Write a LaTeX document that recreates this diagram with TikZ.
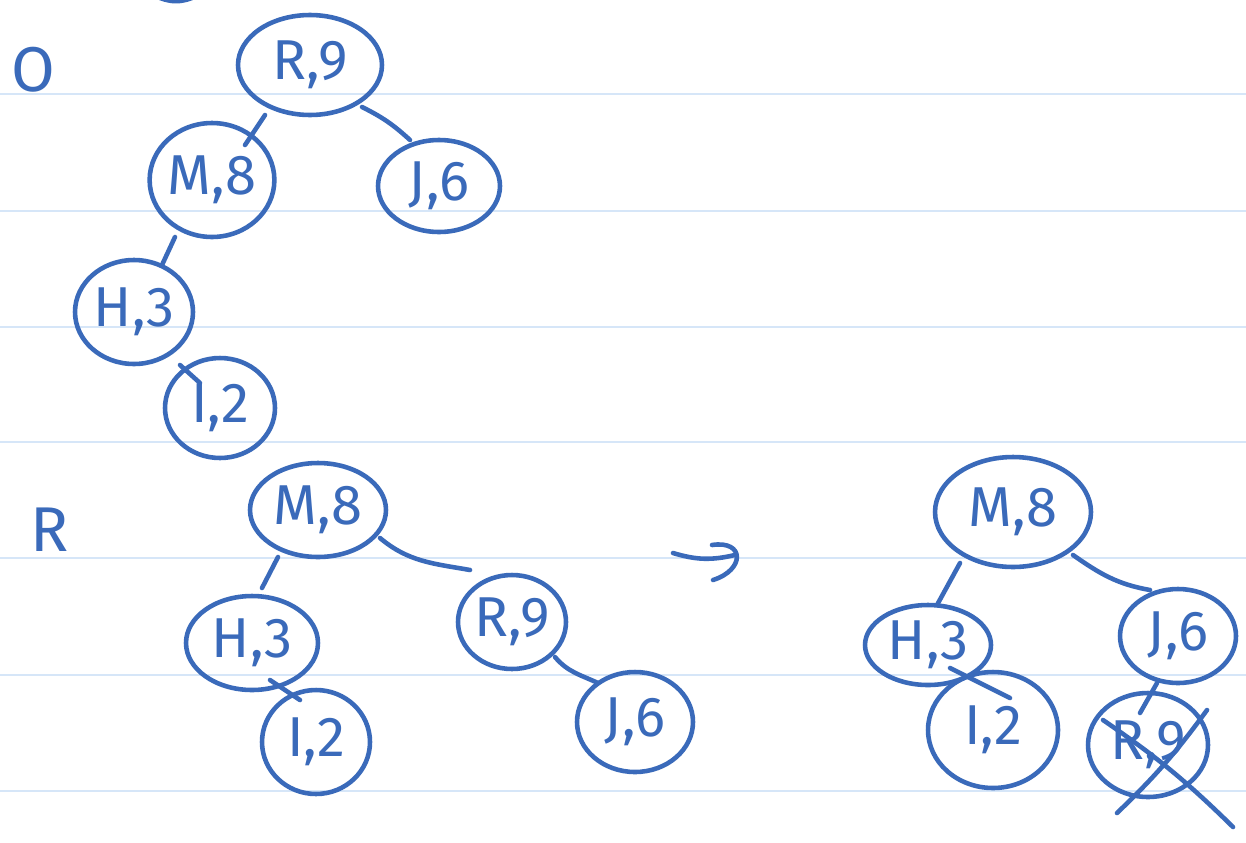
\documentclass[tikz,border=0pt]{standalone}
\usepackage{fontspec}
\setmainfont{Fira Sans}
\usetikzlibrary{shapes.geometric,calc}
\definecolor{ink}{RGB}{58,106,186}
\definecolor{paper}{RGB}{214,230,248}
\tikzset{
  nd/.style={ellipse, draw=ink, line width=2.6pt, inner sep=0pt, text=ink,
    font=\fontsize{32}{36}\selectfont},
  lbl/.style={text=ink, inner sep=0pt, font=\fontsize{36}{40}\selectfont},
  edge/.style={draw=ink, line width=2.6pt, line cap=round},
  rule/.style={draw=paper, line width=1.6pt}
}
\begin{document}
\begin{tikzpicture}[x=0.02cm, y=-0.02cm]
\useasboundingbox[fill=white] (0,0) rectangle (1246,842);
% ruled paper
\foreach \yy in {94,211,327,442,558,675,791}
  \draw[rule] (0,\yy) -- (1246,\yy);
% ink fragment at the top edge
\coordinate (fa) at (160,-2);
\coordinate (fb) at (192,-2);
\draw[edge] (fa) to[bend right=20] (fb);

% ---------- tree O ----------
\node[lbl] (labO) at (33,70) {O};
\node[nd, minimum width=2.88cm, minimum height=2.0cm] (o-r9) at (310,65) {R,9};
\node[nd, minimum width=2.48cm, minimum height=2.28cm] (o-m8) at (212,180) {M,8};
\node[nd, minimum width=2.44cm, minimum height=1.84cm] (o-j6) at (439,186) {J,6};
\node[nd, minimum width=2.36cm, minimum height=2.08cm] (o-h3) at (134,312) {H,3};
\node[nd, minimum width=2.20cm, minimum height=2.00cm] (o-i2) at (220,408) {I,2};
\draw[edge] ($(o-r9)+(-45,50)$) -- ($(o-m8)+(33,-35)$);
\draw[edge] ($(o-r9)+(52,42)$) to[bend left=8] ($(o-j6)+(-29,-46)$);
\draw[edge] ($(o-m8)+(-37,57)$) -- ($(o-h3)+(28,-47)$);
\draw[edge] ($(o-h3)+(46,53)$) -- ($(o-i2)+(-20,-25)$);

% ---------- tree R ----------
\node[lbl] (labR) at (50,530) {R};
\node[nd, minimum width=2.72cm, minimum height=1.88cm] (r-m8) at (318,510) {M,8};
\node[nd, minimum width=2.64cm, minimum height=1.88cm] (r-h3) at (252,643) {H,3};
\node[nd, minimum width=2.16cm, minimum height=2.08cm] (r-i2) at (316,742) {I,2};
\node[nd, minimum width=2.16cm, minimum height=1.88cm] (r-r9) at (512,622) {R,9};
\node[nd, minimum width=2.32cm, minimum height=2.00cm] (r-j6) at (635,722) {J,6};
\draw[edge] ($(r-m8)+(-40,47)$) -- ($(r-h3)+(10,-55)$);
\draw[edge] ($(r-m8)+(62,28)$) to[out=-40,in=170] ($(r-r9)+(-42,-52)$);
\draw[edge] ($(r-h3)+(18,37)$) -- ($(r-i2)+(-16,-42)$);
\draw[edge] ($(r-r9)+(43,35)$) to[out=-50,in=155] ($(r-j6)+(-37,-39)$);

% ---------- arrow ----------
\coordinate (a0) at (673,553);
\coordinate (a1) at (735,555);
\coordinate (h0) at (712,545);
\coordinate (h1) at (713,580);
\draw[edge] (a0) to[bend right=15] (a1);
\draw[edge] (h0) .. controls (745,540) and (745,570) .. (h1);

% ---------- result tree ----------
\node[nd, minimum width=3.12cm, minimum height=2.20cm] (f-m8) at (1013,512) {M,8};
\node[nd, minimum width=2.52cm, minimum height=1.60cm] (f-h3) at (928,645) {H,3};
\node[nd, minimum width=2.60cm, minimum height=2.32cm] (f-i2) at (993,730) {I,2};
\node[nd, minimum width=2.32cm, minimum height=1.88cm] (f-j6) at (1178,636) {J,6};
\node[nd, minimum width=2.40cm, minimum height=2.08cm] (f-r9) at (1148,745) {R,9};
\draw[edge] ($(f-m8)+(-53,51)$) -- ($(f-h3)+(9,-40)$);
\draw[edge] ($(f-m8)+(60,43)$) to[out=-35,in=170] ($(f-j6)+(-28,-46)$);
\draw[edge] ($(f-h3)+(22,23)$) -- ($(f-i2)+(17,-32)$);
\draw[edge] ($(f-j6)+(-21,47)$) -- ($(f-r9)+(-8,-32)$);
% crossing out R,9
\draw[edge] ($(f-r9)+(-45,-25)$) to[bend left=5] ($(f-r9)+(85,82)$);
\draw[edge] ($(f-r9)+(59,-35)$) to[bend left=5] ($(f-r9)+(-31,68)$);
\end{tikzpicture}
\end{document}
